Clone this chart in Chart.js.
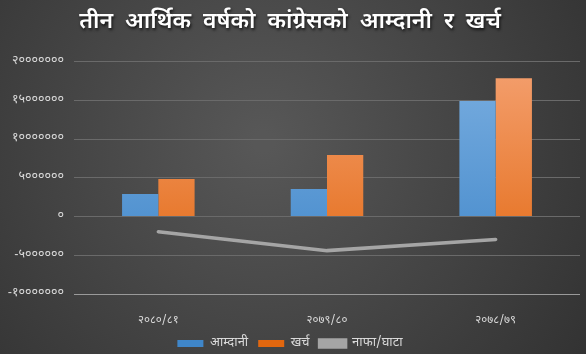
<!DOCTYPE html>
<html><head><meta charset="utf-8">
<script src="https://cdn.jsdelivr.net/npm/chart.js@4.4.0/dist/chart.umd.min.js"></script>
<style>html,body{margin:0;padding:0;background:#404040;}#wrap{width:586px;height:354px;}</style>
</head><body><div id="wrap"><canvas id="c" width="586" height="354"></canvas></div>
<script>
const categories = ['२०८०/८१', '२०७९/८०', '२०७८/७९'];
const income = [2900000, 3550000, 14900000];
const expense = [4850000, 7950000, 17850000];
const profitLoss = [-1950000, -4400000, -2950000];
const seriesNames = ['आम्दानी', 'खर्च', 'नाफा/घाटा'];
const titleText = 'तीन आर्थिक वर्षको कांग्रेसको आम्दानी र खर्च';
const devDigits = ['०','१','२','३','४','५','६','७','८','९'];
const FONT = "'Noto Sans Devanagari', 'Noto Sans', 'Lohit Devanagari', 'Mangal', sans-serif";

function toDev(v){ return String(v).replace(/[0-9]/g, d => devDigits[+d]); }

function grad(ctx, area, top, bottom){
  const g = ctx.createLinearGradient(0, area.top, 0, area.bottom);
  g.addColorStop(0, top); g.addColorStop(1, bottom); return g;
}

const bgPlugin = {
  id: 'bg',
  beforeLayout(chart){
    const lg = chart.legend;
    if (lg && !lg._fitWrapped){
      const of = lg.fit;
      lg.fit = function(){ of.apply(this, arguments); this.height = 27; };
      lg._fitWrapped = true;
    }
  },
  beforeDraw(chart){
    const ctx = chart.ctx, w = chart.width, h = chart.height;
    const g = ctx.createRadialGradient(w*0.45, h*0.4, 10, w*0.45, h*0.4, w*0.7);
    g.addColorStop(0, '#575757'); g.addColorStop(1, '#303030');
    ctx.save(); ctx.fillStyle = g; ctx.fillRect(0,0,w,h); ctx.restore();
  },
  afterLayout(chart){
    const tb = chart.titleBlock;
    if (tb && !tb._shadowWrapped){
      const orig = tb.draw;
      tb.draw = function(){
        const ctx = this.ctx; ctx.save();
        ctx.shadowColor = 'rgba(0,0,0,0.75)'; ctx.shadowOffsetX = 1; ctx.shadowOffsetY = 2; ctx.shadowBlur = 3;
        try { ctx.wordSpacing = '6px'; } catch(e) {}
        orig.apply(this, arguments); ctx.restore();
      };
      tb._shadowWrapped = true;
    }
  }
};

new Chart(document.getElementById('c'), {
  type: 'bar',
  data: {
    labels: categories,
    datasets: [
      { label: seriesNames[0], data: income, order: 2,
        backgroundColor: c => { const a = c.chart.chartArea; return a ? grad(c.chart.ctx, a, '#7aaee0', '#3f86c9') : '#5b9bd5'; },
        barPercentage: 1, categoryPercentage: 0.43 },
      { label: seriesNames[1], data: expense, order: 2,
        backgroundColor: c => { const a = c.chart.chartArea; return a ? grad(c.chart.ctx, a, '#f4a070', '#e2670f') : '#ed7d31'; },
        barPercentage: 1, categoryPercentage: 0.43 },
      { label: seriesNames[2], data: profitLoss, type: 'line', order: 1,
        borderColor: '#a5a5a5', backgroundColor: '#a5a5a5', borderWidth: 3.5,
        pointRadius: 0, tension: 0, borderCapStyle: 'round' }
    ]
  },
  options: {
    responsive: false, animation: false,
    layout: { padding: { left: 0, right: 6, top: 0, bottom: 0 } },
    plugins: {
      title: { display: true, text: titleText, color: '#ffffff',
        font: { family: FONT, size: 23, weight: '600' }, padding: { top: 10, bottom: 24 } },
      legend: { position: 'bottom',
        labels: { color: '#d9d9d9', font: { family: FONT, size: 13 }, boxWidth: 26, boxHeight: 7, padding: 10,
          sort: (a, b) => a.datasetIndex - b.datasetIndex } },
      tooltip: { enabled: false }
    },
    scales: {
      x: { grid: { display: false }, border: { display: false },
        afterFit: s => { s.height = 33; },
        ticks: { color: '#d9d9d9', font: { family: FONT, size: 11.5 }, padding: 12 } },
      y: { min: -10000000, max: 20000000,
        border: { display: false },
        afterFit: s => { s.width = 74; },
        grid: { color: c => c.tick && c.tick.value === -10000000 ? '#9a9a9a' : '#6a6a6a', lineWidth: 1, drawTicks: false },
        ticks: { stepSize: 5000000, color: '#d9d9d9', font: { family: FONT, size: 12.5 }, padding: 10,
          callback: v => toDev(v) } }
    }
  },
  plugins: [bgPlugin]
});
</script></body></html>
